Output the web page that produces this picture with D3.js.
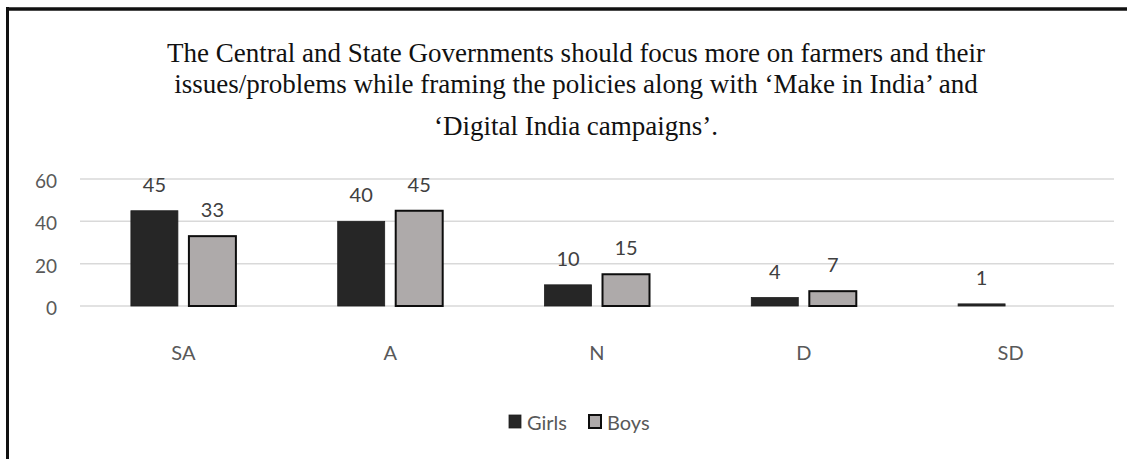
<!DOCTYPE html>
<html>
<head>
<meta charset="utf-8">
<script src="https://cdn.jsdelivr.net/npm/d3@7"></script>
<style>
  html, body { margin: 0; padding: 0; background: #fff; }
  svg { display: block; }
</style>
</head>
<body>
<svg id="chart" width="1127" height="459"></svg>
<script>
// Survey responses by option
const categories = ["SA", "A", "N", "D", "SD"];
const seriesNames = ["Girls", "Boys"];
const girls = [45, 40, 10, 4, 1];
const boys = [33, 45, 15, 7, null];
const yTicks = [0, 20, 40, 60];
const titleLines = [
  "The Central and State Governments should focus more on farmers and their",
  "issues/problems while framing the policies along with \u2018Make in India\u2019 and",
  "\u2018Digital India campaigns\u2019."
];

const svg = d3.select("#chart");
const W = 1127, H = 459;
const axisFont = "Lato, 'Open Sans', sans-serif";

svg.append("rect").attr("width", W).attr("height", H).attr("fill", "#fff");

// frame edges (top and left)
svg.append("line").attr("x1", 7).attr("x2", W).attr("y1", 9).attr("y2", 9)
  .attr("stroke", "#111").attr("stroke-width", 3.5);
svg.append("line").attr("x1", 7.5).attr("x2", 7.5).attr("y1", 7).attr("y2", H)
  .attr("stroke", "#111").attr("stroke-width", 3);

// title, centred over the plot
const titleY = [62, 93, 135];
svg.append("g").selectAll("text").data(titleLines).join("text")
  .attr("x", 576)
  .attr("y", (d, i) => titleY[i])
  .attr("text-anchor", "middle")
  .attr("font-family", "'Liberation Serif', 'Times New Roman', serif")
  .attr("font-size", 27)
  .attr("fill", "#111")
  .text(d => d);

// scales
const x0 = d3.scaleBand().domain(categories).range([80, 1114]).padding(0);
const x1 = d3.scaleBand().domain(seriesNames).range([-52.5, 52.5]).paddingInner(0.19);
const y = d3.scaleLinear().domain([0, 60]).range([306, 179]);

// gridlines
svg.append("g").selectAll("line").data(yTicks).join("line")
  .attr("x1", 80).attr("x2", 1114)
  .attr("y1", d => y(d)).attr("y2", d => y(d))
  .attr("stroke", "#d9d9d9").attr("stroke-width", 1.5);

// y axis labels
const yAxis = d3.axisLeft(y).tickValues(yTicks).tickSize(0).tickPadding(0);
const yg = svg.append("g").attr("transform", "translate(57,0)").call(yAxis);
yg.select(".domain").remove();
yg.selectAll("text")
  .attr("font-family", axisFont).attr("font-size", 19).attr("fill", "#595959")
  .attr("dy", "0.45em");

// x axis labels
const xAxis = d3.axisBottom(x0).tickSize(0).tickPadding(0);
const xg = svg.append("g").attr("transform", "translate(0,360)").call(xAxis);
xg.select(".domain").remove();
xg.selectAll("text")
  .attr("font-family", axisFont).attr("font-size", 20).attr("fill", "#595959")
  .attr("dy", 0).attr("y", 0);

// bars
const colors = { Girls: "#262626", Boys: "#aeaaaa" };
const strokes = { Girls: "#1e1e1e", Boys: "#0d0d0d" };
const rows = [];
categories.forEach((c, i) => {
  rows.push({ cat: c, s: "Girls", v: girls[i] });
  rows.push({ cat: c, s: "Boys", v: boys[i] });
});
const shown = rows.filter(d => d.v != null);

svg.append("g").selectAll("rect").data(shown).join("rect")
  .attr("x", d => x0(d.cat) + x0.bandwidth() / 2 + x1(d.s))
  .attr("width", x1.bandwidth())
  .attr("y", d => y(d.v))
  .attr("height", d => y(0) - y(d.v))
  .attr("fill", d => colors[d.s])
  .attr("stroke", d => strokes[d.s])
  .attr("stroke-width", d => d.s === "Boys" ? 2 : 0.8);

// value labels
svg.append("g").selectAll("text").data(shown).join("text")
  .attr("x", d => x0(d.cat) + x0.bandwidth() / 2 + x1(d.s) + x1.bandwidth() / 2)
  .attr("y", d => y(d.v) - 19)
  .attr("text-anchor", "middle")
  .attr("font-family", axisFont).attr("font-size", 20).attr("fill", "#404040")
  .text(d => d.v);

// legend
const legendItems = [
  { s: "Girls", x: 509, tx: 527 },
  { s: "Boys", x: 589, tx: 607 }
];
const lg = svg.append("g");
lg.selectAll("rect").data(legendItems).join("rect")
  .attr("x", d => d.x).attr("y", 415)
  .attr("width", 12).attr("height", 13)
  .attr("fill", d => colors[d.s])
  .attr("stroke", d => strokes[d.s])
  .attr("stroke-width", d => d.s === "Boys" ? 2 : 0.8);
lg.selectAll("text").data(legendItems).join("text")
  .attr("x", d => d.tx).attr("y", 430)
  .attr("font-family", axisFont).attr("font-size", 20).attr("fill", "#595959")
  .text(d => d.s);
</script>
</body>
</html>
